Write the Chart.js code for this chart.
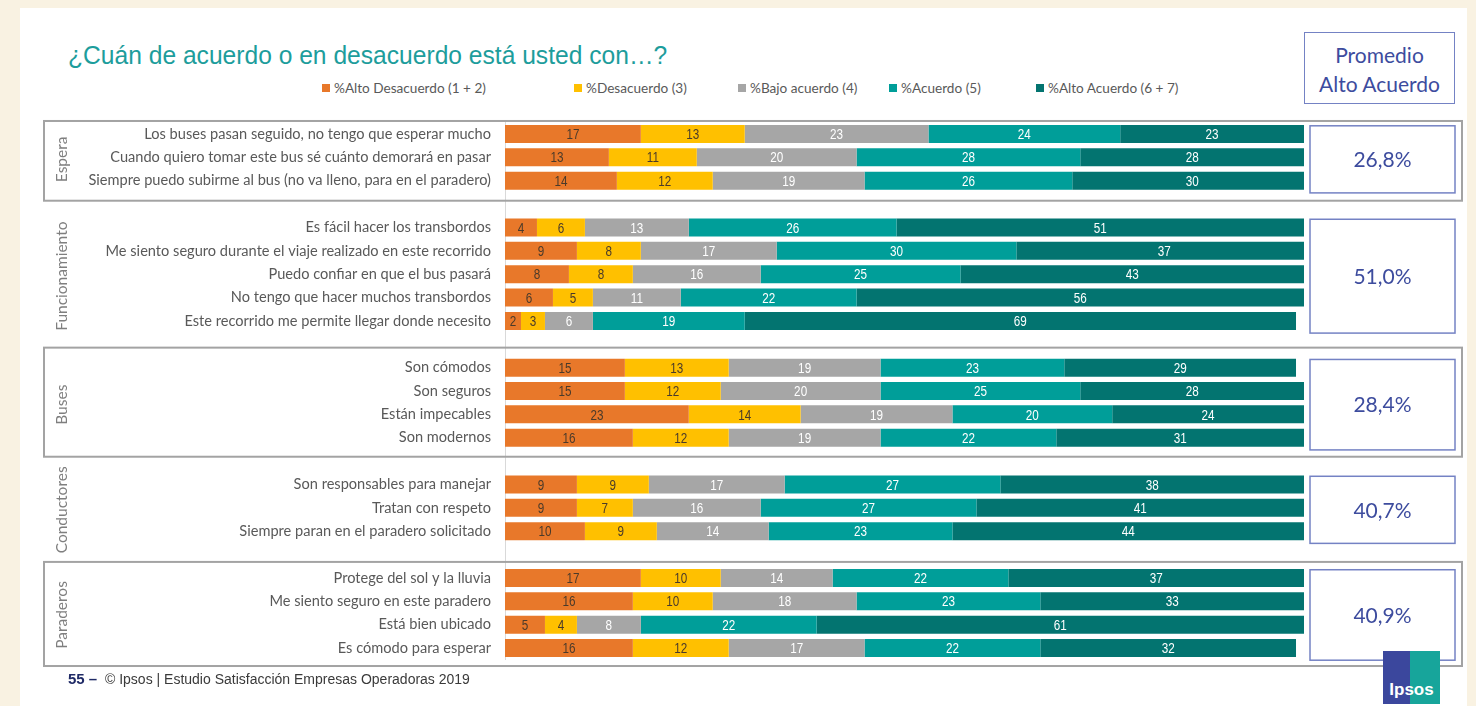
<!DOCTYPE html>
<html lang="es">
<head>
<meta charset="utf-8">
<title>¿Cuán de acuerdo o en desacuerdo está usted con…?</title>
<script src="https://cdn.jsdelivr.net/npm/chart.js@4.4.1/dist/chart.umd.min.js"></script>
<style>
  html, body { margin: 0; padding: 0; }
  body { width: 1476px; height: 706px; background: #f9f2e2; position: relative; overflow: hidden; }
  #slide { position: absolute; left: 20px; top: 8px; width: 1447px; height: 698px; background: #ffffff; }
  #title { position: absolute; left: 68px; top: 41px; font: 25.5px "Liberation Sans", Arial, sans-serif; color: #1d9d9c; white-space: nowrap;
           transform: scaleX(0.965); transform-origin: left center; }
  .leg { position: absolute; top: 80px; font: 13.6px Lato, "Open Sans", sans-serif; color: #595959; white-space: nowrap; display: flex; align-items: center; }
  .leg i { display: inline-block; width: 8px; height: 8px; margin-right: 4px; }
  #head { position: absolute; left: 1304px; top: 32px; width: 151px; height: 72px; border: 1.5px solid #7482c4; background: #fff;
          font: 21px Lato, "Open Sans", sans-serif; color: #3d4c9e; text-align: center; line-height: 29px; padding-top: 7px; box-sizing: border-box; }
  #chart { position: absolute; left: 0; top: 0; }
  #foot { position: absolute; left: 68px; top: 670px; font: 14px "Liberation Sans", Arial, sans-serif; color: #3a3a3a; white-space: nowrap; }
  #foot b { color: #1f2a66; font-size: 15px; }
  #logo { position: absolute; left: 1383px; top: 651px; width: 57px; height: 53px;
          background: linear-gradient(to right, #3b479d 0 48%, #17a59b 48% 100%); }
  #logo span { position: absolute; left: 0; right: 0; bottom: 4px; text-align: center; font: bold 17px "Liberation Sans", Arial, sans-serif; color: #fff; }
</style>
</head>
<body>
<div id="slide"></div>
<div id="title">¿Cuán de acuerdo o en desacuerdo está usted con…?</div>
<div id="legend"></div>
<div id="head">Promedio<br>Alto Acuerdo</div>
<canvas id="chart" width="1476" height="706"></canvas>
<div id="foot"><b>55 –</b>&nbsp; © Ipsos | Estudio Satisfacción Empresas Operadoras 2019</div>
<div id="logo"><span>Ipsos</span></div>

<script>
// ---- Data ----
const groupNames = ['Espera', 'Funcionamiento', 'Buses', 'Conductores', 'Paraderos'];
const groupSizes = [3, 5, 4, 3, 4];

const statements = [
  'Los buses pasan seguido, no tengo que esperar mucho',
  'Cuando quiero tomar este bus sé cuánto demorará en pasar',
  'Siempre puedo subirme al bus (no va lleno, para en el paradero)',
  'Es fácil hacer los transbordos',
  'Me siento seguro durante el viaje realizado en este recorrido',
  'Puedo confiar en que el bus pasará',
  'No tengo que hacer muchos transbordos',
  'Este recorrido me permite llegar donde necesito',
  'Son cómodos',
  'Son seguros',
  'Están impecables',
  'Son modernos',
  'Son responsables para manejar',
  'Tratan con respeto',
  'Siempre paran en el paradero solicitado',
  'Protege del sol y la lluvia',
  'Me siento seguro en este paradero',
  'Está bien ubicado',
  'Es cómodo para esperar'
];

const seriesNames = ['%Alto Desacuerdo (1 + 2)', '%Desacuerdo (3)', '%Bajo acuerdo (4)', '%Acuerdo (5)', '%Alto Acuerdo (6 + 7)'];

const altoDesacuerdo = [17, 13, 14,  4, 9, 8, 6, 2,  15, 15, 23, 16,  9, 9, 10,  17, 16, 5, 16];
const desacuerdo     = [13, 11, 12,  6, 8, 8, 5, 3,  13, 12, 14, 12,  9, 7, 9,   10, 10, 4, 12];
const bajoAcuerdo    = [23, 20, 19,  13, 17, 16, 11, 6,  19, 20, 19, 19,  17, 16, 14,  14, 18, 8, 17];
const acuerdo        = [24, 28, 26,  26, 30, 25, 22, 19,  23, 25, 20, 22,  27, 27, 23,  22, 23, 22, 22];
const altoAcuerdo    = [23, 28, 30,  51, 37, 43, 56, 69,  29, 28, 24, 31,  38, 41, 44,  37, 33, 61, 32];

const promedioAltoAcuerdo = [26.8, 51.0, 28.4, 40.7, 40.9];

// ---- Style ----
const fillColors  = ['#e8782a', '#ffc000', '#a6a6a6', '#009e99', '#037470'];
const labelColors = ['#4a3a2a', '#4a3a2a', '#ffffff', '#ffffff', '#ffffff'];
const legendLeft  = [322, 574, 738, 889, 1036];
const framedGroups = [true, false, true, false, true];
const framePad = [{ t: 13, b: 20 }, null, { t: 20, b: 19 }, null, { t: 16, b: 18 }];
const uiFont = 'Lato, "Open Sans", sans-serif';
const numFont = '"Liberation Sans", sans-serif';

// ---- Legend (HTML) ----
const legendBox = document.getElementById('legend');
seriesNames.forEach((name, i) => {
  const d = document.createElement('div');
  d.className = 'leg';
  d.style.left = legendLeft[i] + 'px';
  d.innerHTML = '<i style="background:' + fillColors[i] + '"></i>' + name;
  legendBox.appendChild(d);
});

// ---- Build the padded category list (one empty slot between groups) ----
const labels = [];
const rowOfStatement = [];
const groupRows = [];
let s = 0;
groupSizes.forEach((n, g) => {
  if (g > 0) labels.push('');
  const first = labels.length;
  for (let k = 0; k < n; k++, s++) {
    rowOfStatement.push(labels.length);
    labels.push(statements[s]);
  }
  groupRows.push([first, labels.length - 1]);
});

function spread(values) {
  const out = labels.map(() => null);
  values.forEach((v, i) => { out[rowOfStatement[i]] = v; });
  return out;
}

const seriesValues = [altoDesacuerdo, desacuerdo, bajoAcuerdo, acuerdo, altoAcuerdo];
const datasets = seriesValues.map((vals, i) => ({
  label: seriesNames[i],
  data: spread(vals),
  backgroundColor: fillColors[i],
  borderWidth: 0,
  categoryPercentage: 1,
  barPercentage: 0.77,
  clip: 0
}));

// ---- Plugins ----
// Value labels centred in each segment, drawn slightly condensed
const segmentLabels = {
  id: 'segmentLabels',
  afterDatasetsDraw(chart) {
    const ctx = chart.ctx;
    ctx.save();
    ctx.font = '15px ' + numFont;
    ctx.textAlign = 'center';
    ctx.textBaseline = 'middle';
    chart.data.datasets.forEach((ds, i) => {
      const meta = chart.getDatasetMeta(i);
      meta.data.forEach((bar, j) => {
        const v = ds.data[j];
        if (v == null) return;
        ctx.save();
        ctx.translate((bar.x + bar.base) / 2, bar.y + 1);
        ctx.scale(0.78, 1);
        ctx.fillStyle = labelColors[i];
        ctx.fillText(String(v), 0, 0);
        ctx.restore();
      });
    });
    ctx.restore();
  }
};

// Group frames, rotated group names and the average boxes on the right
const groupDecor = {
  id: 'groupDecor',
  afterDraw(chart) {
    const ctx = chart.ctx;
    const y = chart.scales.y;
    const half = (y.getPixelForValue(1) - y.getPixelForValue(0)) / 2;
    ctx.save();
    groupRows.forEach(([a, b], g) => {
      const yTop = y.getPixelForValue(a);
      const yBot = y.getPixelForValue(b);
      if (framedGroups[g]) {
        const p = framePad[g];
        ctx.strokeStyle = '#a3a3a3';
        ctx.lineWidth = 2;
        ctx.strokeRect(44, yTop - p.t, 1418, (yBot - yTop) + p.t + p.b);
      }
      ctx.save();
      ctx.translate(62, (yTop + yBot) / 2 + 2);
      ctx.rotate(-Math.PI / 2);
      ctx.fillStyle = '#7f7f7f';
      ctx.font = '15.5px ' + uiFont;
      ctx.textAlign = 'center';
      ctx.textBaseline = 'middle';
      ctx.fillText(groupNames[g], 0, 0);
      ctx.restore();
      const bx = 1310, bw = 145;
      const by = yTop - half + 3.5, bh = (yBot - yTop) + 2 * half - 3;
      ctx.fillStyle = '#ffffff';
      ctx.fillRect(bx, by, bw, bh);
      ctx.strokeStyle = '#7482c4';
      ctx.lineWidth = 1.5;
      ctx.strokeRect(bx, by, bw, bh);
      ctx.fillStyle = '#3d4c9e';
      ctx.font = '21px ' + uiFont;
      ctx.textAlign = 'center';
      ctx.textBaseline = 'middle';
      ctx.fillText(promedioAltoAcuerdo[g].toFixed(1).replace('.', ',') + '%', bx + bw / 2, by + bh / 2 + 1);
    });
    ctx.restore();
  }
};

// ---- Chart ----
new Chart(document.getElementById('chart'), {
  type: 'bar',
  data: { labels, datasets },
  options: {
    indexAxis: 'y',
    responsive: false,
    animation: false,
    events: [],
    layout: { padding: { left: 0, right: 172, top: 122.3, bottom: 46.3 } },
    plugins: { legend: { display: false }, tooltip: { enabled: false } },
    scales: {
      x: { stacked: true, min: 0, max: 100, display: false },
      y: {
        stacked: true,
        grid: { display: false, drawTicks: false },
        border: { display: true, color: '#d9d9d9', width: 1 },
        ticks: { autoSkip: false, padding: 14, color: '#595959', font: { family: uiFont, size: 14.6 } },
        afterFit(scale) { scale.width = 505; }
      }
    }
  },
  plugins: [segmentLabels, groupDecor]
});
</script>
</body>
</html>
